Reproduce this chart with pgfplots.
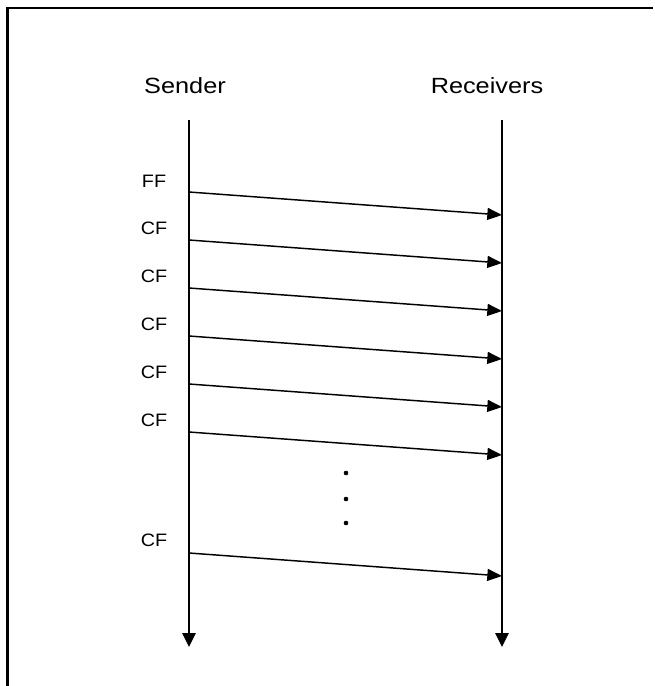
\documentclass[border=0pt]{standalone}
\usepackage{pgfplots}
\pgfplotsset{compat=1.18}
\usepackage{fontspec}
\setmainfont{Liberation Sans}
\usetikzlibrary{arrows.meta}
\begin{document}
\begin{tikzpicture}
\begin{axis}[
  at={(0,0)}, anchor=south west,
  scale only axis, width=490.5pt, height=514.5pt,
  xmin=0, xmax=654, ymin=0, ymax=686, y dir=reverse,
  axis lines=none, clip=false,
]
% frame (top and left)
\addplot[black, line width=2pt] coordinates {(7.5,686)(7.5,8)(653,8)};
% life lines
\addplot[black, line width=1.5pt, -{Triangle[length=10.5pt,width=10pt]}] coordinates {(189,120)(189,647)};
\addplot[black, line width=1.5pt, -{Triangle[length=10.5pt,width=10pt]}] coordinates {(502,120)(502,647)};
% messages
\pgfplotsinvokeforeach{192,240,288,336,384,432,553}{
  \addplot[black, line width=1.1pt, -{Triangle[length=11pt,width=9pt]}] coordinates {(189,#1)(502,#1+23)};
}
% dots
\addplot[only marks, mark=*, mark size=1.5pt, black] coordinates {(346,473)(346,499)(346,523)};
% labels
\node[font=\fontsize{16.5pt}{18pt}\selectfont, xscale=1.15] at (axis cs:185,86) {Sender};
\node[font=\fontsize{16.5pt}{18pt}\selectfont, xscale=1.15] at (axis cs:487,86) {Receivers};
\node[font=\fontsize{13.5pt}{15pt}\selectfont, xscale=1.1] at (axis cs:154,181) {FF};
\pgfplotsinvokeforeach{228,276,324,372,420,540}{
  \node[font=\fontsize{13.5pt}{15pt}\selectfont, xscale=1.1] at (axis cs:154,#1) {CF};
}
\end{axis}
\pgfresetboundingbox
\path (0,0) rectangle (490.5pt,514.5pt);
\end{tikzpicture}
\end{document}
